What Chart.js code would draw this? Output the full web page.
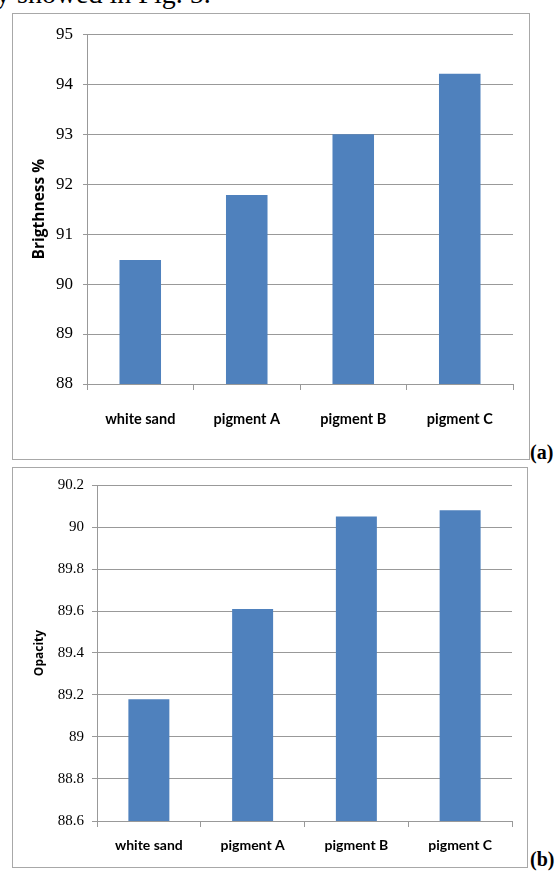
<!DOCTYPE html>
<html>
<head>
<meta charset="utf-8">
<script src="https://cdn.jsdelivr.net/npm/chart.js@4.4.0/dist/chart.umd.min.js"></script>
<style>
  html, body { margin: 0; padding: 0; background: #fff; }
  body { width: 559px; height: 878px; position: relative; overflow: hidden; }
  .frame { position: absolute; box-sizing: border-box; border: 1px solid #a8a8a8; background: #fff; }
  .lead { position: absolute; left: -4px; top: -20px; font: 28px "Liberation Serif", serif; line-height: 28px; white-space: nowrap; color: #000; }
  .tag { position: absolute; font: bold 20px "Liberation Serif", serif; color: #000; }
  canvas { position: absolute; }
</style>
</head>
<body>
<div class="lead">y showed in Fig. 5.</div>

<div class="frame" style="left:12px; top:13px; width:518px; height:447px;"></div>
<canvas id="chartA" width="515" height="444" style="left:13px; top:14px; width:515px; height:444px;"></canvas>
<div class="tag" style="left:530px; top:441px;">(a)</div>

<div class="frame" style="left:12px; top:467px; width:516px; height:401px;"></div>
<canvas id="chartB" width="513" height="398" style="left:13px; top:468px; width:513px; height:398px;"></canvas>
<div class="tag" style="left:530px; top:848px;">(b)</div>

<script>
// Samples shared by both panels
const categories = ['white sand', 'pigment A', 'pigment B', 'pigment C'];

// Panel (a): brightness
const brightness = [90.48, 91.78, 93.0, 94.21];
const brightnessTicks = [88, 89, 90, 91, 92, 93, 94, 95];

// Panel (b): opacity
const opacity = [89.18, 89.61, 90.05, 90.08];
const opacityTicks = [88.6, 88.8, 89.0, 89.2, 89.4, 89.6, 89.8, 90.0, 90.2];

const BAR_BLUE = '#4f81bd';
const GRID = '#999999';

function makeBarChart(canvasId, values, tickValues, title, cfg) {
  return new Chart(document.getElementById(canvasId), {
    type: 'bar',
    data: {
      labels: categories,
      datasets: [{
        data: values,
        backgroundColor: BAR_BLUE,
        borderWidth: 0,
        barPercentage: cfg.barPct,
        categoryPercentage: 1.0
      }]
    },
    options: {
      responsive: false,
      animation: false,
      devicePixelRatio: 1,
      layout: { padding: { left: 0, right: cfg.padRight, top: cfg.padTop, bottom: 0 } },
      plugins: { legend: { display: false }, tooltip: { enabled: false } },
      scales: {
        x: {
          grid: { display: true, drawOnChartArea: false, drawTicks: true, tickLength: 6, color: GRID, offset: true },
          border: { display: true, color: GRID },
          ticks: {
            color: '#000',
            padding: cfg.xPad,
            maxRotation: 0,
            font: { family: 'Lato', weight: 'bold', size: cfg.xFont }
          },
          afterFit: (s) => { s.height = cfg.xHeight; }
        },
        y: {
          min: tickValues[0],
          max: tickValues[tickValues.length - 1],
          afterBuildTicks: (s) => { s.ticks = tickValues.map(v => ({ value: v })); },
          grid: { color: GRID, drawTicks: true, tickLength: cfg.yTickLen },
          border: { display: true, color: GRID },
          ticks: {
            color: '#000',
            padding: cfg.yPad,
            font: { family: 'Liberation Serif', size: cfg.yFont },
            callback: (v) => String(parseFloat(Number(v).toFixed(1)))
          },
          title: {
            display: true,
            text: title,
            color: '#000',
            padding: { top: cfg.titlePadTop, bottom: 0 },
            font: { family: 'Open Sans', weight: 'bold', size: cfg.titleFont }
          },
          afterFit: (s) => { s.width = cfg.yWidth; }
        }
      }
    }
  });
}

makeBarChart('chartA', brightness, brightnessTicks, 'Brigthness %', {
  barPct: 0.39, padRight: 15, padTop: 15, xHeight: 74, xPad: 21, xFont: 14.5,
  yTickLen: 4, yPad: 10, yFont: 17, yWidth: 74, titleFont: 15.5, titlePadTop: 17
});

makeBarChart('chartB', opacity, opacityTicks, 'Opacity', {
  barPct: 0.395, padRight: 14, padTop: 15, xHeight: 45, xPad: 10, xFont: 14,
  yTickLen: 5, yPad: 8, yFont: 15, yWidth: 84, titleFont: 12, titlePadTop: 19
});
</script>
</body>
</html>
